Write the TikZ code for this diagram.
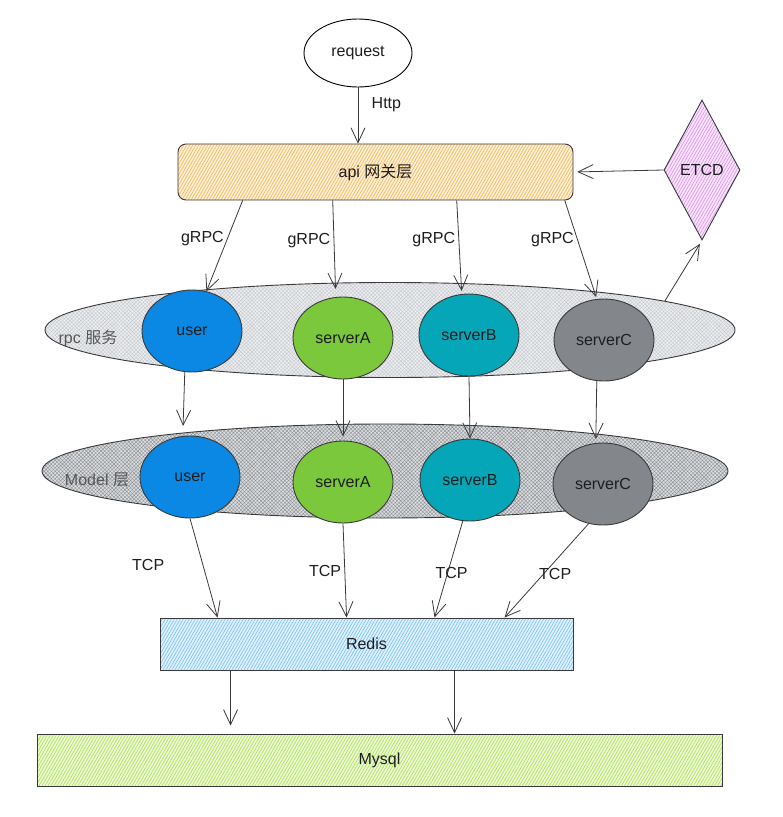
\documentclass[tikz,border=0pt]{standalone}
\usepackage{fontspec}
\setmainfont{Liberation Sans}
\newfontfamily\cjk{Noto Sans CJK SC}
\usetikzlibrary{shapes.geometric,arrows.meta,patterns.meta,calc}

\definecolor{linegray}{HTML}{3A3A3A}
\definecolor{textdark}{HTML}{1E1E1E}
\definecolor{userblue}{HTML}{0A88E3}
\definecolor{srvagreen}{HTML}{7BC83C}
\definecolor{srvbteal}{HTML}{05A6B8}
\definecolor{srvcgray}{HTML}{83878C}
\definecolor{apiorange}{HTML}{F5B64E}
\definecolor{etcdpink}{HTML}{E08CF2}
\definecolor{redisblue}{HTML}{74C0FC}
\definecolor{mysqlgreen}{HTML}{A9E34B}
\definecolor{rpchatch}{HTML}{C4C8CD}
\definecolor{modelhatch}{HTML}{8A8F95}

\begin{document}
\begin{tikzpicture}[x=1pt, y=-1pt,
    font=\fontsize{16}{19}\selectfont, text=textdark,
    arrow/.style={-{Straight Barb[length=15pt,width=14pt]}, line width=0.8pt, draw=linegray},
    hatchbox/.style={draw=linegray, line width=0.9pt, preaction={fill=#1!22},
      pattern={Lines[angle=60,distance=2.6pt,line width=0.6pt]}, pattern color=#1},
    layer/.style={ellipse, draw=linegray, line width=0.9pt, preaction={fill=#1!30},
      pattern={Hatch[angle=45,distance=2.6pt,line width=0.4pt]}, pattern color=#1},
    svc/.style={ellipse, draw=linegray, line width=0.9pt, fill=#1, inner sep=0pt,
      minimum width=100, minimum height=82},
    layerlabel/.style={text=linegray!85}
]
\useasboundingbox (0,0) rectangle (783,817);

% --- request and gateway ---
\node[ellipse, draw, line width=0.9pt, fill=white, minimum width=108, minimum height=68] (request) at (358,53) {request};
\node[hatchbox=apiorange, rounded corners=8pt, minimum width=395, minimum height=56] (api) at (375.5,172) {api {\cjk 网关层}};
\node[diamond, hatchbox=etcdpink, aspect=0.54, minimum width=76, minimum height=140, inner sep=1pt] (etcd) at (702,170) {ETCD};

% --- rpc layer ---
\node[layer=rpchatch, minimum width=690, minimum height=95] (rpc) at (390,330) {};
\node[layerlabel] (rpclabel) at (88,338) {rpc {\cjk 服务}};
\node[svc=userblue] (rpcuser) at (192,331) {user};
\node[svc=srvagreen] (rpcsrva) at (343,338) {serverA};
\node[svc=srvbteal] (rpcsrvb) at (469,335) {serverB};
\node[svc=srvcgray] (rpcsrvc) at (604,340) {serverC};

% --- model layer ---
\node[layer=modelhatch, minimum width=686, minimum height=94] (model) at (385,471) {};
\node[layerlabel] (modellabel) at (97,480) {Model {\cjk 层}};
\node[svc=userblue] (mduser) at (190,477) {user};
\node[svc=srvagreen] (mdsrva) at (343,482) {serverA};
\node[svc=srvbteal] (mdsrvb) at (470,480) {serverB};
\node[svc=srvcgray] (mdsrvc) at (603,484) {serverC};

% --- storage ---
\node[hatchbox=redisblue, minimum width=413, minimum height=52] (redis) at (366.5,644) {Redis};
\node[hatchbox=mysqlgreen, minimum width=685, minimum height=52] (mysql) at (379.5,760) {Mysql};

% --- Arrows ---
\draw[arrow] (request.south) -- node[right, pos=0.3, xshift=10pt] {Http} (request.south |- api.north);
\draw[arrow, shorten >=4pt] (etcd.west) -- (api.east);
\draw[arrow, shorten >=4pt] (rpc.6) -- (etcd.south);

\draw[arrow] ($(api.south west)+(65,0)$) -- node[left, pos=0.42] {gRPC} (rpcuser.70);
\draw[arrow, shorten >=8pt] ($(api.south west)+(155,0)$) -- node[left, pos=0.42] {gRPC} (rpcsrva.100);
\draw[arrow, shorten >=3pt] ($(api.south west)+(279,0)$) -- node[left, pos=0.42] {gRPC} (rpcsrvb.100);
\draw[arrow, shorten >=2pt] ($(api.south west)+(387,0)$) -- node[left, pos=0.4] {gRPC} (rpcsrvc.100);

\draw[arrow, shorten >=10pt] (rpcuser.-100) -- (mduser.100);
\draw[arrow, shorten >=4pt] (rpcsrva.south) -- (mdsrva.north);
\draw[arrow] (rpcsrvb.south) -- (mdsrvb.north);
\draw[arrow, shorten >=4pt] (rpcsrvc.-100) -- (mdsrvc.100);

\draw[arrow] (mduser.south) -- node[left, pos=0.47, xshift=-35pt] {TCP} ($(redis.north west)+(58,0)$);
\draw[arrow] (mdsrva.south) -- node[left, pos=0.5] {TCP} ($(redis.north west)+(187,0)$);
\draw[arrow] (mdsrvb.-100) -- node[pos=0.54, xshift=4pt] {TCP} ($(redis.north west)+(275,0)$);
\draw[arrow] (mdsrvc.-110) -- node[pos=0.54, xshift=12pt] {TCP} ($(redis.north west)+(345,0)$);

\draw[arrow, shorten >=8pt] ($(redis.south west)+(71,0)$) -- ($(mysql.north west)+(194,0)$);
\draw[arrow] ($(redis.south west)+(295,0)$) -- ($(mysql.north west)+(418,0)$);

\end{tikzpicture}
\end{document}
